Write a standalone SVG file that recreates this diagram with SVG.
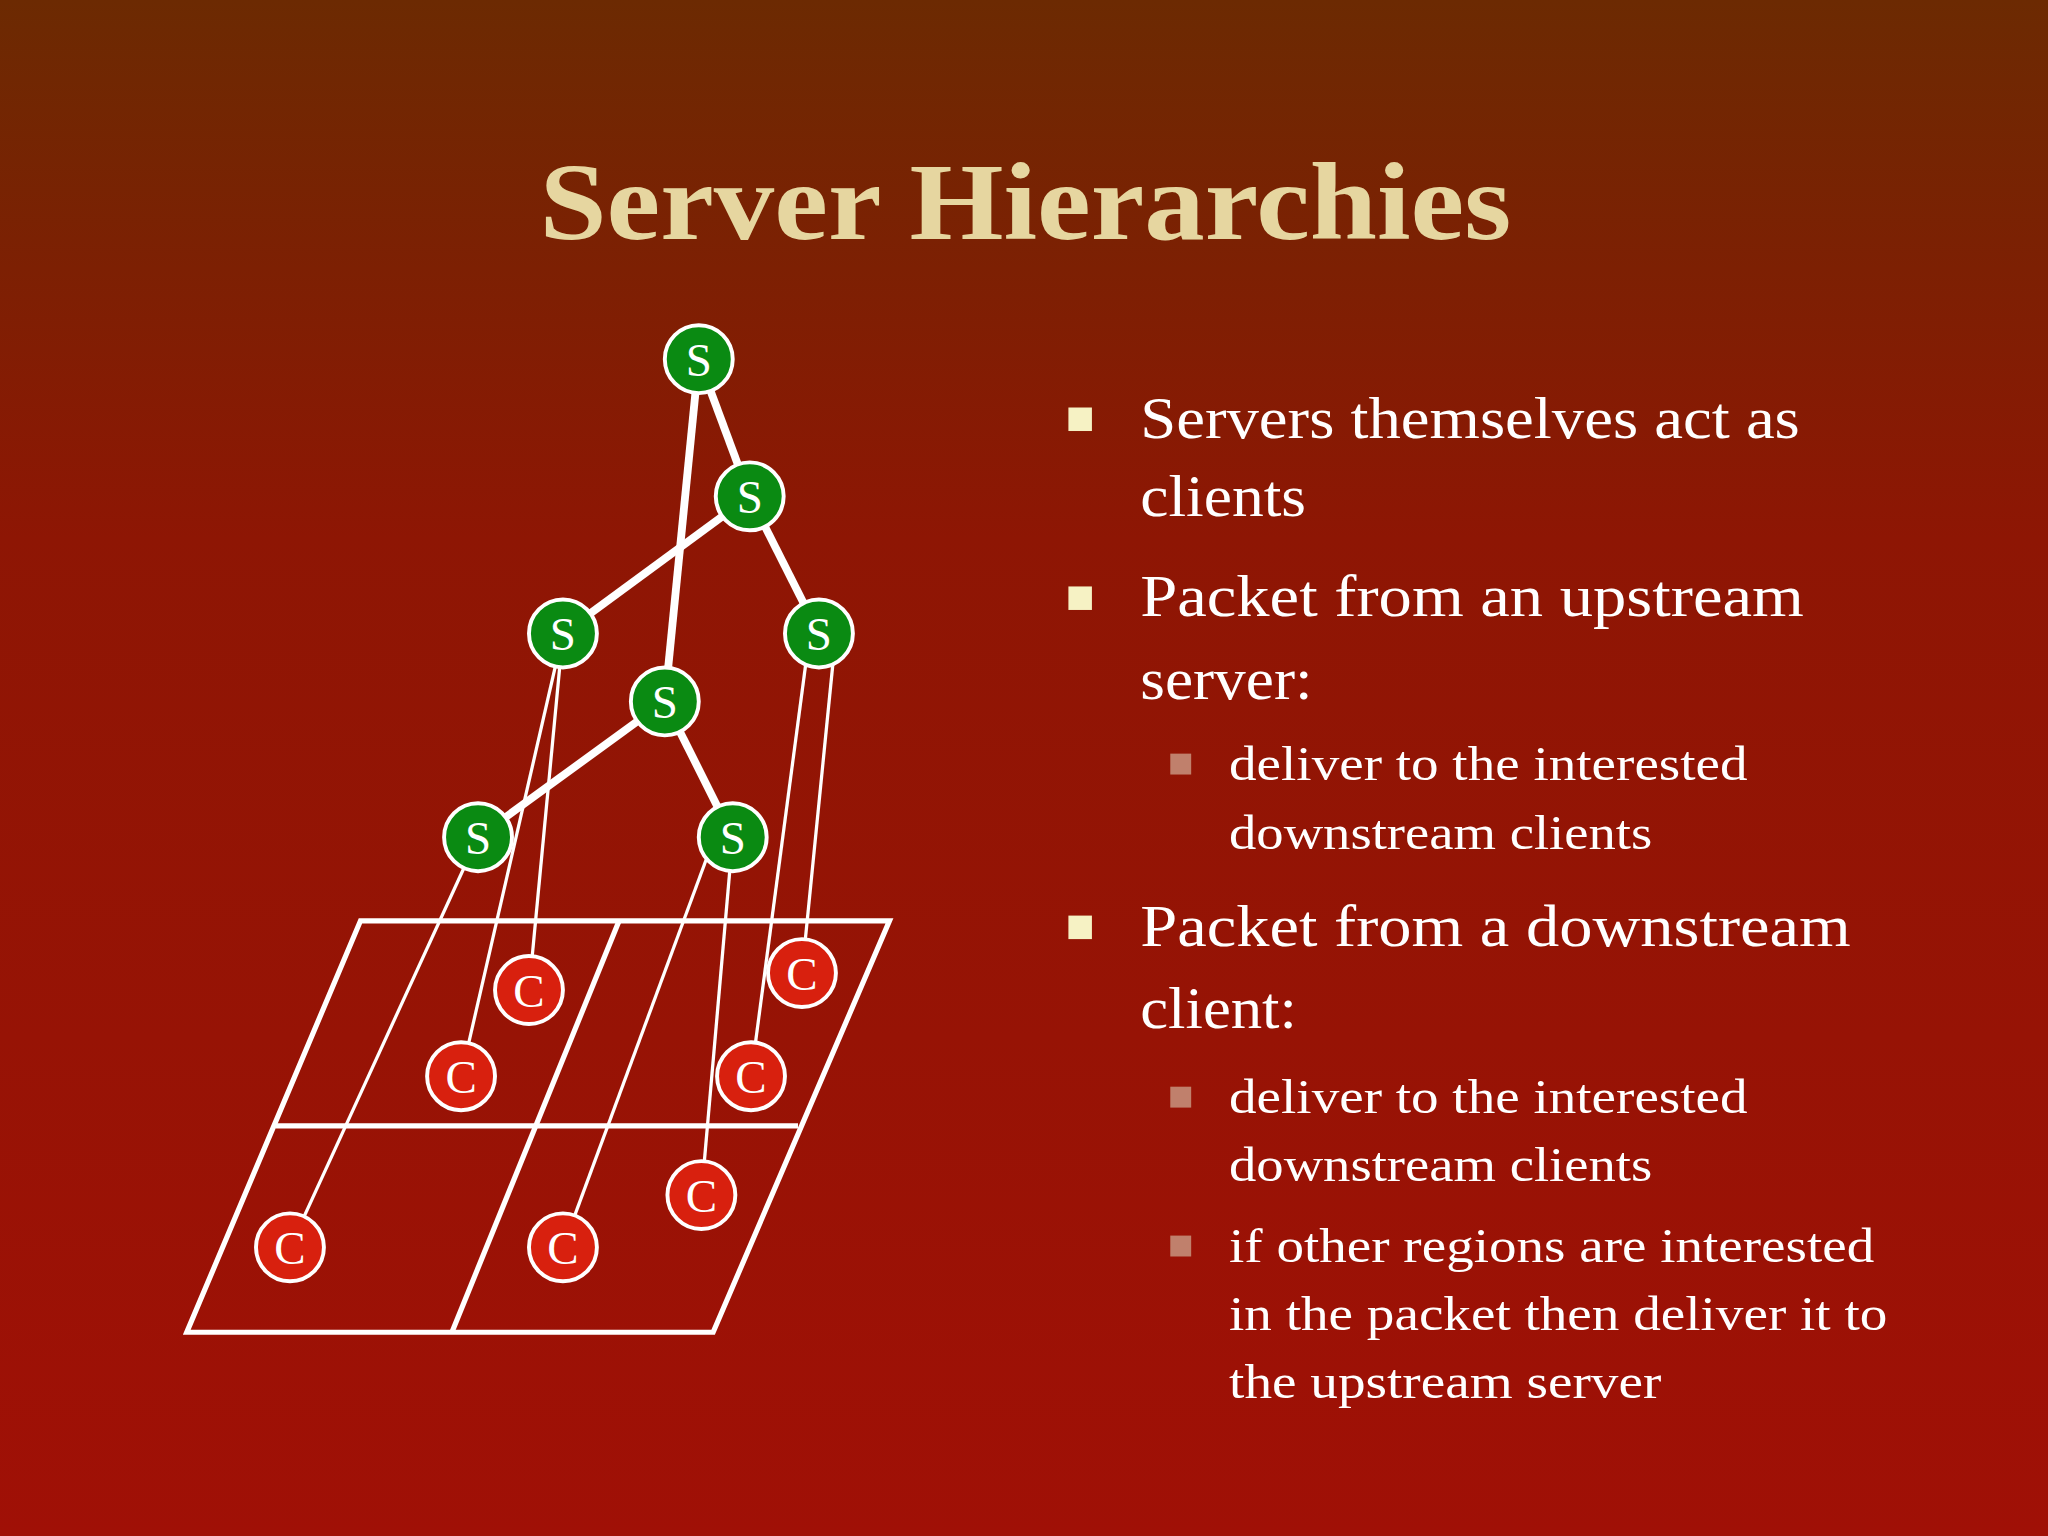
<svg xmlns="http://www.w3.org/2000/svg" width="2048" height="1536" viewBox="0 0 2048 1536">
<defs>
<linearGradient id="bg" x1="0" y1="0" x2="0" y2="1">
<stop offset="0" stop-color="#6c2a02"/><stop offset="0.35" stop-color="#8e1604"/><stop offset="1" stop-color="#a01006"/>
</linearGradient>
<style>
.s circle{fill:#0a8a12;stroke:#fff;stroke-width:3}
.c circle{fill:#d8200e;stroke:#fff;stroke-width:3}
.lbl{font-family:"Liberation Serif",serif;font-size:36px;fill:#fff;text-anchor:middle}
.thick{stroke:#fff;stroke-width:6;fill:none}
.thin{stroke:#fff;stroke-width:2.5;fill:none}
.b{font-family:"Liberation Serif",serif;font-size:45px;fill:#fff}
.sb{font-family:"Liberation Serif",serif;font-size:37px;fill:#fff}
</style>
</defs>
<rect width="2048" height="1536" fill="url(#bg)"/>
<g transform="scale(1.30612)">
<text x="785" y="183" font-family="Liberation Serif,serif" font-weight="bold" font-size="84" fill="#e6d6a0" text-anchor="middle" textLength="744" lengthAdjust="spacingAndGlyphs">Server Hierarchies</text>
<g id="grid" class="thin" style="stroke-width:4">
<polygon points="276,705 681,705 546,1020 143,1020"/>
<line x1="211" y1="862" x2="611" y2="862"/>
<line x1="474" y1="705" x2="346" y2="1020"/>
</g>
<g id="connectors">
<line class="thick" x1="535" y1="275" x2="574" y2="380"/>
<line class="thick" x1="535" y1="275" x2="509" y2="537"/>
<line class="thick" x1="574" y1="380" x2="431" y2="485"/>
<line class="thick" x1="574" y1="380" x2="627" y2="485"/>
<line class="thick" x1="509" y1="537" x2="366" y2="641"/>
<line class="thick" x1="509" y1="537" x2="561" y2="641"/>
<line class="thin" x1="431" y1="485" x2="405" y2="758"/>
<line class="thin" x1="431" y1="485" x2="353" y2="824"/>
<line class="thin" x1="640" y1="485" x2="614" y2="745"/>
<line class="thin" x1="620" y1="485" x2="575" y2="824"/>
<line class="thin" x1="366" y1="641" x2="222" y2="955"/>
<line class="thin" x1="547" y1="641" x2="431" y2="955"/>
<line class="thin" x1="561" y1="641" x2="537" y2="915"/>
</g>
<g id="s1" class="s"><circle cx="535" cy="275" r="26"/><text class="lbl" x="535" y="288">S</text></g>
<g id="s2" class="s"><circle cx="574" cy="380" r="26"/><text class="lbl" x="574" y="393">S</text></g>
<g id="s3" class="s"><circle cx="431" cy="485" r="26"/><text class="lbl" x="431" y="498">S</text></g>
<g id="s4" class="s"><circle cx="627" cy="485" r="26"/><text class="lbl" x="627" y="498">S</text></g>
<g id="s5" class="s"><circle cx="509" cy="537" r="26"/><text class="lbl" x="509" y="550">S</text></g>
<g id="s6" class="s"><circle cx="366" cy="641" r="26"/><text class="lbl" x="366" y="654">S</text></g>
<g id="s7" class="s"><circle cx="561" cy="641" r="26"/><text class="lbl" x="561" y="654">S</text></g>
<g id="c1" class="c"><circle cx="405" cy="758" r="26"/><text class="lbl" x="405" y="771">C</text></g>
<g id="c2" class="c"><circle cx="614" cy="745" r="26"/><text class="lbl" x="614" y="758">C</text></g>
<g id="c3" class="c"><circle cx="353" cy="824" r="26"/><text class="lbl" x="353" y="837">C</text></g>
<g id="c4" class="c"><circle cx="575" cy="824" r="26"/><text class="lbl" x="575" y="837">C</text></g>
<g id="c5" class="c"><circle cx="537" cy="915" r="26"/><text class="lbl" x="537" y="928">C</text></g>
<g id="c6" class="c"><circle cx="222" cy="955" r="26"/><text class="lbl" x="222" y="968">C</text></g>
<g id="c7" class="c"><circle cx="431" cy="955" r="26"/><text class="lbl" x="431" y="968">C</text></g>
<g id="bullets">
<rect x="818" y="312" width="18" height="18" fill="#f6f2c4"/>
<rect x="818" y="449" width="18" height="18" fill="#f6f2c4"/>
<rect x="818" y="701" width="18" height="18" fill="#f6f2c4"/>
<rect x="896" y="577" width="16" height="16" fill="#c0806c"/>
<rect x="896" y="832" width="16" height="16" fill="#c0806c"/>
<rect x="896" y="946" width="16" height="16" fill="#c0806c"/>
<text class="b" x="873" y="335" textLength="505" lengthAdjust="spacingAndGlyphs">Servers themselves act as</text>
<text class="b" x="873" y="395" textLength="127" lengthAdjust="spacingAndGlyphs">clients</text>
<text class="b" x="873" y="472" textLength="508" lengthAdjust="spacingAndGlyphs">Packet from an upstream</text>
<text class="b" x="873" y="535" textLength="132" lengthAdjust="spacingAndGlyphs">server:</text>
<text class="sb" x="941" y="597" textLength="397" lengthAdjust="spacingAndGlyphs">deliver to the interested</text>
<text class="sb" x="941" y="650" textLength="324" lengthAdjust="spacingAndGlyphs">downstream clients</text>
<text class="b" x="873" y="724" textLength="544" lengthAdjust="spacingAndGlyphs">Packet from a downstream</text>
<text class="b" x="873" y="787" textLength="120" lengthAdjust="spacingAndGlyphs">client:</text>
<text class="sb" x="941" y="852" textLength="397" lengthAdjust="spacingAndGlyphs">deliver to the interested</text>
<text class="sb" x="941" y="904" textLength="324" lengthAdjust="spacingAndGlyphs">downstream clients</text>
<text class="sb" x="941" y="966" textLength="494" lengthAdjust="spacingAndGlyphs">if other regions are interested</text>
<text class="sb" x="941" y="1018" textLength="504" lengthAdjust="spacingAndGlyphs">in the packet then deliver it to</text>
<text class="sb" x="941" y="1070" textLength="331" lengthAdjust="spacingAndGlyphs">the upstream server</text>
</g>
</g>
</svg>
